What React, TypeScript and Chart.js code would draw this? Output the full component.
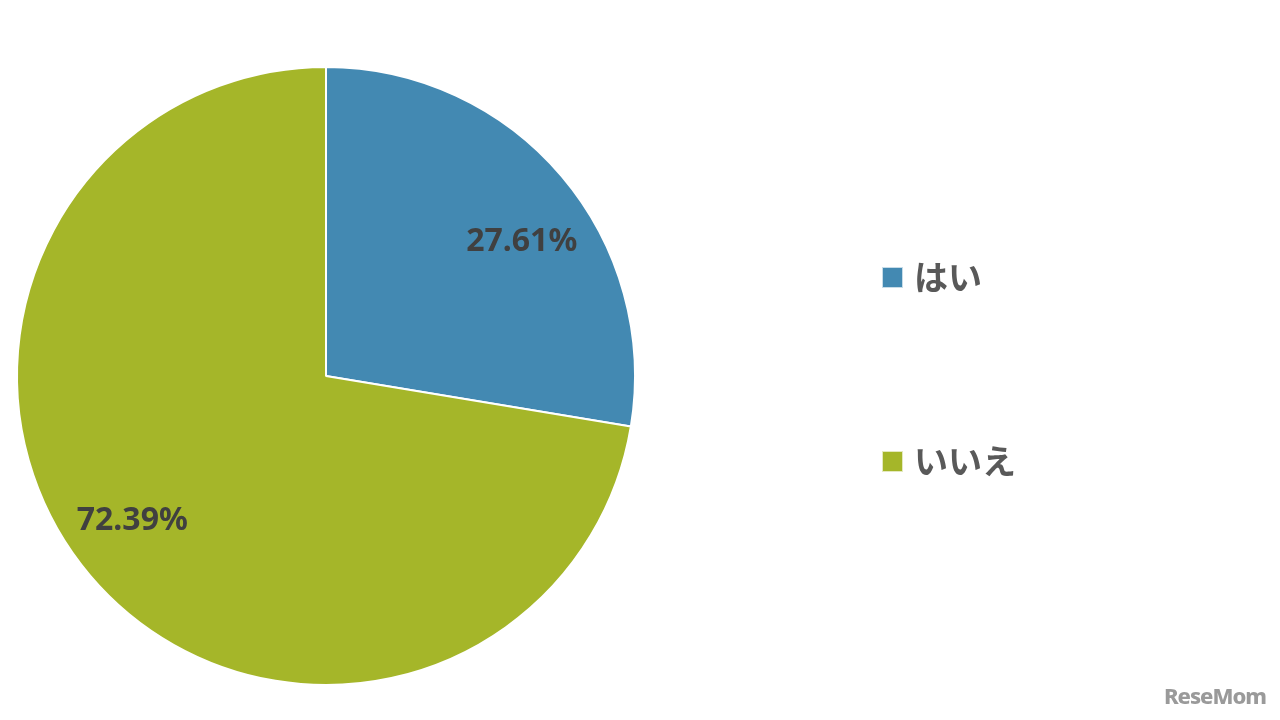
import React, { useEffect, useRef } from "react";
import { Chart, registerables } from "chart.js";

Chart.register(...registerables);

const categories = ["はい", "いいえ"];
const values = [27.61, 72.39];
const valueLabels = ["27.61%", "72.39%"];
const colors = ["#4389B2", "#A5B629"];

const labelPlugin = {
  id: "sliceLabels",
  afterDatasetsDraw(chart: any) {
    const ctx = chart.ctx;
    const meta = chart.getDatasetMeta(0);
    ctx.save();
    ctx.font = "bold 32px 'Noto Sans', sans-serif";
    ctx.fillStyle = "#404040";
    ctx.textAlign = "center";
    ctx.textBaseline = "middle";
    meta.data.forEach((arc: any, i: number) => {
      const p = arc.getProps(["x", "y", "startAngle", "endAngle", "outerRadius"], true);
      const mid = (p.startAngle + p.endAngle) / 2 + (4.7 * Math.PI) / 180;
      const r = p.outerRadius * 0.775;
      ctx.fillText(valueLabels[i], p.x + Math.cos(mid) * r + 1, p.y + Math.sin(mid) * r + 5);
    });
    ctx.restore();
  },
};

const legendPlugin = {
  id: "customLegend",
  afterDraw(chart: any) {
    const ctx = chart.ctx;
    const ds = chart.data.datasets[0];
    ctx.save();
    ctx.font = "bold 34px 'Noto Sans CJK JP', sans-serif";
    ctx.textBaseline = "middle";
    ctx.textAlign = "left";
    chart.data.labels.forEach((lab: string, i: number) => {
      const cy = 277 + i * 184;
      ctx.fillStyle = ds.backgroundColor[i];
      ctx.fillRect(882, cy - 10, 21, 21);
      ctx.strokeStyle = "rgba(255,255,255,0.7)";
      ctx.lineWidth = 1;
      ctx.strokeRect(882.5, cy - 9.5, 20, 20);
      ctx.fillStyle = "#595959";
      ctx.fillText(lab, 914, cy);
    });
    ctx.restore();
  },
};

export default function App() {
  const ref = useRef<HTMLCanvasElement>(null);
  useEffect(() => {
    if (!ref.current) return;
    const chart = new Chart(ref.current, {
      type: "pie",
      data: {
        labels: categories,
        datasets: [
          {
            data: values,
            backgroundColor: colors,
            borderColor: "#ffffff",
            borderWidth: 2,
          },
        ],
      },
      options: {
        animation: false,
        responsive: false,
        maintainAspectRatio: false,
        layout: { padding: { left: 16, top: 66, right: 644, bottom: 34 } },
        plugins: {
          legend: { display: false },
          tooltip: { enabled: false },
        },
      },
      plugins: [labelPlugin, legendPlugin],
    });
    return () => chart.destroy();
  }, []);
  return (
    <div style={{ position: "fixed", left: 0, top: 0, width: 1280, height: 720, background: "#fff" }}>
      <canvas ref={ref} width={1280} height={720} style={{ display: "block" }} />
      <div
        style={{
          position: "absolute",
          right: 14,
          bottom: 10,
          fontFamily: "'Noto Sans', sans-serif",
          fontWeight: 800,
          fontSize: 22,
          color: "#9a9a9a",
          letterSpacing: -1,
        }}
      >
        ReseMom
      </div>
    </div>
  );
}
